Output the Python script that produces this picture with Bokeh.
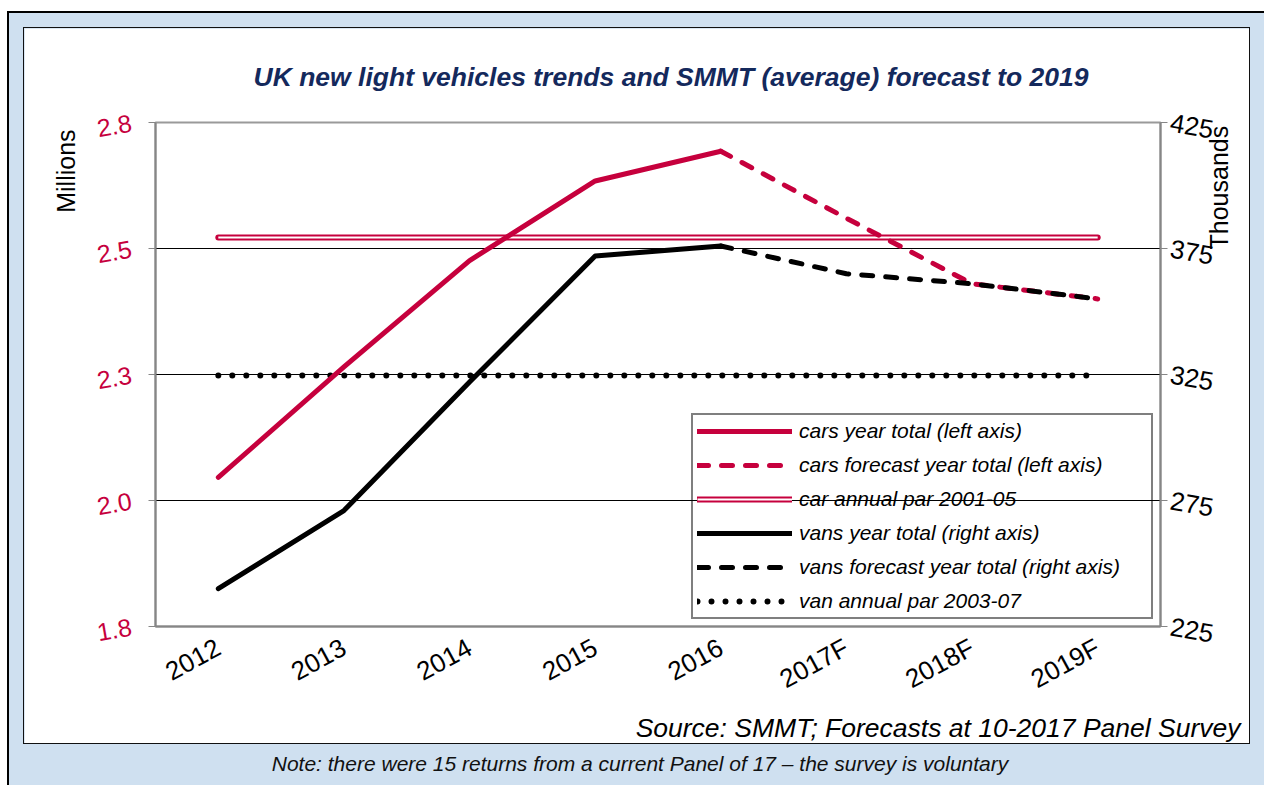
import math
from bokeh.plotting import figure
from bokeh.models import (Range1d, FactorRange, LinearAxis, FixedTicker, Legend,
                          LegendItem, Title, Div)
from bokeh.layouts import column
from bokeh.embed import file_html
from bokeh.resources import INLINE

# ---------------- data ----------------
categories = ["2012", "2013", "2014", "2015", "2016", "2017F", "2018F", "2019F"]
actual_years = ["2012", "2013", "2014", "2015", "2016"]
forecast_years = ["2016", "2017F", "2018F", "2019F"]
cars_actual = [2.046, 2.265, 2.476, 2.634, 2.693]        # millions
cars_forecast = [2.693, 2.56, 2.43, 2.40]                  # millions
vans_actual = [240, 271, 322, 372, 376]                    # thousands
vans_forecast = [376, 365, 361, 355]                       # thousands
car_par = 2.522                                            # millions
van_par = 324.6                                            # thousands
left_ticks = [1.75, 2.0, 2.25, 2.5, 2.75]
left_tick_labels = ["1.8", "2.0", "2.3", "2.5", "2.8"]
right_ticks = [225, 275, 325, 375, 425]
right_tick_labels = ["225", "275", "325", "375", "425"]

title_text = "UK new light vehicles trends and SMMT (average) forecast to 2019"
source_text = "Source: SMMT; Forecasts at 10-2017 Panel Survey"
note_text = "Note: there were 15 returns from a current Panel of 17 \u2013 the survey is voluntary"
left_axis_title = "Millions"
right_axis_title = "Thousands"
legend_labels = ["cars year total (left axis)", "cars forecast year total (left axis)",
                 "car annual par 2001-05", "vans year total (right axis)",
                 "vans forecast year total (right axis)", "van annual par 2003-07"]

CRIMSON = "#c6003d"
FONT = "Liberation Sans"
GREY = "#868686"
NBSP = "\u00a0"

p = figure(x_range=FactorRange(factors=categories, range_padding=0),
           y_range=Range1d(left_ticks[0], left_ticks[-1]),
           width=1227, height=717, output_backend="svg", toolbar_location=None,
           min_border_left=131, min_border_right=91, min_border_top=93,
           min_border_bottom=119, background_fill_color="white",
           border_fill_color="white",
           styles={"border": "1px solid #111"})
p.extra_y_ranges = {"vans": Range1d(right_ticks[0], right_ticks[-1])}

# title
p.title.text = title_text
p.title.align = "left"
p.title.offset = 98
p.title.text_font = FONT
p.title.text_font_style = "bold italic"
p.title.text_font_size = "26.5px"
p.title.text_color = "#14295c"
p.title.standoff = 62

# outline & grid
p.outline_line_color = "#9a9a9a"
p.outline_line_width = 2
p.xgrid.grid_line_color = None
p.ygrid.ticker = FixedTicker(ticks=left_ticks)
p.ygrid.grid_line_color = "black"
p.ygrid.grid_line_width = 1

# left axis
ya = p.yaxis[0]
ya.ticker = FixedTicker(ticks=left_ticks)
ya.major_label_overrides = dict(zip(left_ticks, left_tick_labels))
ya.major_label_text_color = CRIMSON
ya.major_label_text_font = FONT
ya.major_label_text_font_size = "25px"
ya.major_label_orientation = 0.17
ya.major_label_standoff = 17
ya.axis_label = left_axis_title + NBSP
ya.axis_label_text_font = FONT
ya.axis_label_text_font_style = "normal"
ya.axis_label_text_font_size = "25px"
ya.axis_label_text_color = "black"
ya.axis_label_orientation = math.pi / 2
ya.axis_label_align = "end"
ya.axis_label_standoff = 25
ya.axis_line_color = GREY
ya.axis_line_width = 2
ya.major_tick_line_color = GREY
ya.major_tick_out = 7
ya.major_tick_in = 0
ya.minor_tick_line_color = None

# right axis
ra = LinearAxis(y_range_name="vans", ticker=FixedTicker(ticks=right_ticks))
ra.major_label_overrides = dict(zip(right_ticks, right_tick_labels))
ra.major_label_text_color = "black"
ra.major_label_text_font = FONT
ra.major_label_text_font_size = "26px"
ra.major_label_orientation = -0.17
ra.major_label_standoff = 3
ra.axis_label = NBSP * 18 + right_axis_title
ra.axis_label_text_font = FONT
ra.axis_label_text_font_style = "normal"
ra.axis_label_text_font_size = "25px"
ra.axis_label_text_color = "black"
ra.axis_label_orientation = math.pi / 2
ra.axis_label_align = "center"
ra.axis_label_standoff = 0
ra.axis_line_color = GREY
ra.axis_line_width = 2
ra.major_tick_line_color = GREY
ra.major_tick_out = 7
ra.major_tick_in = 0
ra.minor_tick_line_color = None
p.add_layout(ra, "right")

# bottom axis
xa = p.xaxis[0]
xa.major_label_orientation = 0.5
xa.major_label_text_font = FONT
xa.major_label_text_font_size = "26px"
xa.major_label_text_color = "black"
xa.major_label_standoff = 13
xa.major_tick_line_color = None
xa.axis_line_color = GREY
xa.axis_line_width = 2

# source line
p.add_layout(Title(text=source_text, align="right", offset=-80, standoff=0,
                   text_font=FONT, text_font_style="italic", text_font_size="26.5px",
                   text_color="black"), "below")

# glyphs
r_car_par_o = p.line([categories[0], categories[-1]], [car_par, car_par],
                     line_color=CRIMSON, line_width=6, line_cap="round")
r_car_par_i = p.line([categories[0], categories[-1]], [car_par, car_par],
                     line_color="white", line_width=2)
r_van_par = p.line([categories[0], categories[-1]], [van_par, van_par],
                   y_range_name="vans", line_color="black", line_width=6,
                   line_dash="0 14", line_cap="round")
r_car = p.line(actual_years, cars_actual, line_color=CRIMSON, line_width=5,
               line_cap="round", line_join="round")
r_car_f = p.line(forecast_years, cars_forecast, line_color=CRIMSON, line_width=5,
                 line_dash="11 13", line_cap="round", line_join="round")
r_van = p.line(actual_years, vans_actual, y_range_name="vans", line_color="black",
               line_width=5, line_cap="round", line_join="round")
r_van_f = p.line(forecast_years, vans_forecast, y_range_name="vans",
                 line_color="black", line_width=5, line_dash="11 13",
                 line_cap="round", line_join="round")

legend = Legend(items=[
    LegendItem(label=legend_labels[0], renderers=[r_car]),
    LegendItem(label=legend_labels[1], renderers=[r_car_f]),
    LegendItem(label=legend_labels[2], renderers=[r_car_par_o, r_car_par_i]),
    LegendItem(label=legend_labels[3], renderers=[r_van]),
    LegendItem(label=legend_labels[4], renderers=[r_van_f]),
    LegendItem(label=legend_labels[5], renderers=[r_van_par]),
], location="bottom_right")
legend.label_text_font = FONT
legend.label_text_font_style = "italic"
legend.label_text_font_size = "21px"
legend.label_text_color = "black"
legend.glyph_width = 95
legend.glyph_height = 20
legend.label_height = 20
legend.label_standoff = 7
legend.label_width = 348
legend.spacing = 10
legend.padding = 4
legend.margin = 7
legend.border_line_color = "black"
legend.border_line_width = 2
legend.background_fill_alpha = 0
p.add_layout(legend, "center")

note = Div(text=note_text, width=1200, height=26, margin=(5, 0, 0, 31),
           styles={"font-family": FONT, "font-style": "italic", "font-size": "21px",
                   "text-align": "center", "color": "#111"})

p.margin = (14, 0, 0, 14)

page = column(p, note, width=1257, height=774, margin=(11, 0, 0, 7),
              styles={"background-color": "#cfe0f0", "border-top": "2px solid black",
                      "border-left": "2px solid black"})

open("out.html", "w").write(file_html(page, INLINE))
